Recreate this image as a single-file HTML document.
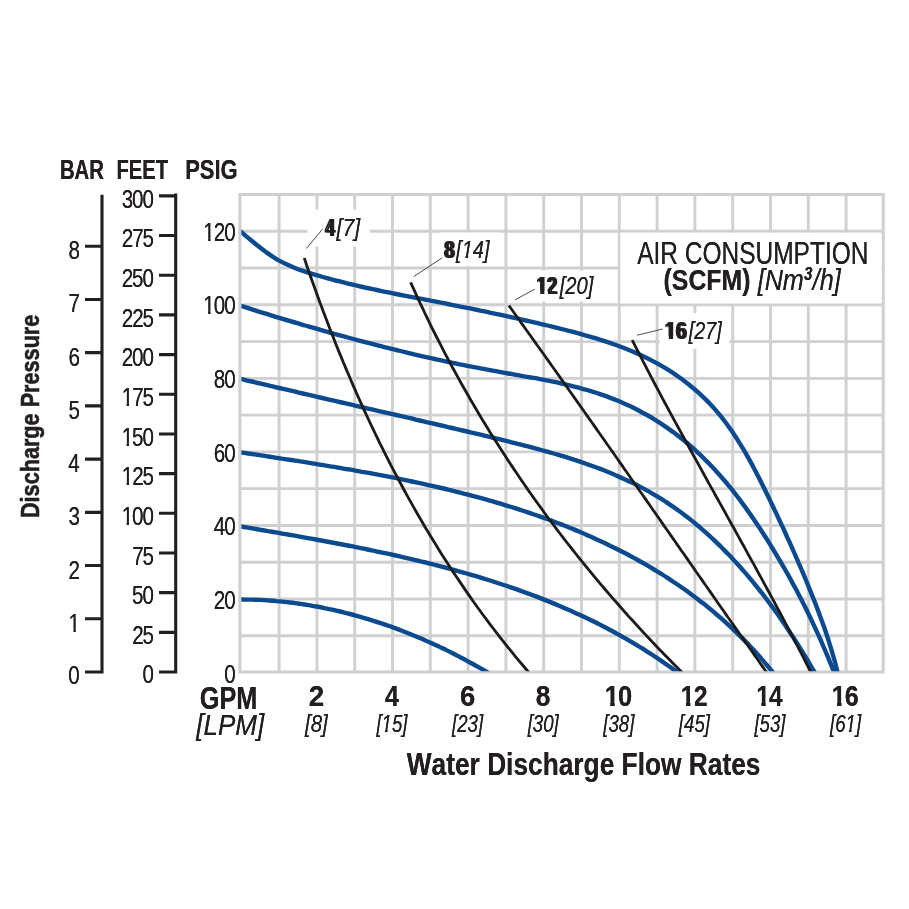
<!DOCTYPE html>
<html lang="en">
<head>
<meta charset="utf-8">
<title>Pump Performance Curve</title>
<style>
html,body{margin:0;padding:0;background:#fff;}
body{width:909px;height:909px;overflow:hidden;}
svg{display:block;}
text{font-family:"Liberation Sans",sans-serif;font-kerning:none;white-space:pre;}
.r{font-weight:400;font-style:normal;}
.b{font-weight:700;font-style:normal;}
.i{font-weight:400;font-style:italic;}
.bi{font-weight:700;font-style:italic;}
.rot{stroke:#231f20;stroke-width:.6px;stroke-linejoin:round;}
</style>
</head>
<body>
<svg width="909" height="909" viewBox="0 0 909 909">
<defs><clipPath id="cp"><rect x="241.4" y="190" width="645" height="481.2"/></clipPath>
<filter id="fat-r" filterUnits="userSpaceOnUse" x="0" y="0" width="909" height="909" color-interpolation-filters="sRGB"><feOffset in="SourceGraphic" dx="0.25" dy="0" result="a"/><feOffset in="SourceGraphic" dx="-0.25" dy="0" result="b"/><feMerge><feMergeNode in="a"/><feMergeNode in="b"/></feMerge></filter>
<filter id="fat-b" filterUnits="userSpaceOnUse" x="0" y="0" width="909" height="909" color-interpolation-filters="sRGB"><feOffset in="SourceGraphic" dx="0.45" dy="0" result="a"/><feOffset in="SourceGraphic" dx="-0.45" dy="0" result="b"/><feMerge><feMergeNode in="a"/><feMergeNode in="b"/></feMerge></filter>
<filter id="fat-i" filterUnits="userSpaceOnUse" x="0" y="0" width="909" height="909" color-interpolation-filters="sRGB"><feOffset in="SourceGraphic" dx="0.42" dy="0" result="a"/><feOffset in="SourceGraphic" dx="-0.42" dy="0" result="b"/><feMerge><feMergeNode in="a"/><feMergeNode in="b"/></feMerge></filter>
<filter id="fat-b2" filterUnits="userSpaceOnUse" x="0" y="0" width="909" height="909" color-interpolation-filters="sRGB"><feOffset in="SourceGraphic" dx="0.70" dy="0" result="a"/><feOffset in="SourceGraphic" dx="-0.70" dy="0" result="b"/><feMerge><feMergeNode in="a"/><feMergeNode in="b"/></feMerge></filter>
</defs>
<rect width="909" height="909" fill="#fff"/>
<g stroke="#cfd0d2" stroke-width="2.9" fill="none">
<rect x="239.90" y="194.50" width="643.30" height="477.50" stroke-width="3.1"/>
<path d="M279.10 194.50V672.00M316.90 194.50V672.00M354.70 194.50V672.00M392.50 194.50V672.00M430.30 194.50V672.00M468.10 194.50V672.00M505.90 194.50V672.00M543.70 194.50V672.00M581.50 194.50V672.00M619.30 194.50V672.00M657.10 194.50V672.00M694.90 194.50V672.00M732.70 194.50V672.00M770.50 194.50V672.00M808.30 194.50V672.00M846.10 194.50V672.00M239.90 635.75H883.20M239.90 598.98H883.20M239.90 562.21H883.20M239.90 525.44H883.20M239.90 488.67H883.20M239.90 451.90H883.20M239.90 415.13H883.20M239.90 378.36H883.20M239.90 341.59H883.20M239.90 304.82H883.20M239.90 268.05H883.20M239.90 231.28H883.20"/>
</g>
<rect x="307.4" y="209.7" width="62.6" height="36.8" fill="#fff"/>
<rect x="440.0" y="232.5" width="60.0" height="33.5" fill="#fff"/>
<rect x="520.0" y="270.5" width="80.0" height="30.9" fill="#fff"/>
<rect x="659.6" y="313.2" width="69.7" height="35.6" fill="#fff"/>
<rect x="620.3" y="232.7" width="261.3" height="70.7" fill="#fff"/>
<g clip-path="url(#cp)" fill="none" stroke-linecap="butt" stroke-linejoin="round">
<g stroke="#0b4a8f" stroke-width="4.4">
<path d="M236.1 227.8C237.2 228.6 240.2 231.2 242.3 232.9C244.3 234.6 246.4 236.4 248.5 238.1C250.5 239.8 252.6 241.6 254.7 243.3C256.8 245.0 258.9 246.7 261.0 248.3C263.2 250.0 265.3 251.6 267.5 253.1C269.7 254.7 271.9 256.2 274.2 257.6C276.5 259.0 278.7 260.4 281.1 261.6C283.4 262.9 285.8 264.0 288.2 265.1C290.6 266.2 293.1 267.3 295.5 268.2C298.0 269.2 300.5 270.1 303.0 270.9C305.5 271.8 308.0 272.6 310.6 273.4C313.1 274.2 315.7 275.0 318.2 275.7C320.8 276.4 323.4 277.2 325.9 277.9C328.5 278.6 331.1 279.3 333.7 280.0C336.3 280.6 338.9 281.3 341.5 281.9C344.0 282.6 346.6 283.2 349.3 283.9C351.9 284.5 354.5 285.1 357.1 285.7C359.7 286.3 362.3 286.9 364.9 287.5C367.5 288.0 370.2 288.6 372.8 289.2C375.4 289.7 378.0 290.3 380.6 290.8C383.3 291.4 385.9 291.9 388.5 292.4C391.2 293.0 393.8 293.5 396.4 294.0C399.1 294.6 401.7 295.1 404.3 295.6C406.9 296.1 409.6 296.6 412.2 297.1C414.8 297.6 417.5 298.1 420.1 298.6C422.7 299.2 425.4 299.7 428.0 300.2C430.6 300.7 433.2 301.2 435.9 301.7C438.5 302.2 441.1 302.7 443.7 303.2C446.3 303.7 449.0 304.3 451.6 304.8C454.2 305.3 456.8 305.8 459.4 306.3C462.0 306.9 464.6 307.4 467.3 307.9C469.9 308.4 472.5 309.0 475.1 309.5C477.7 310.0 480.3 310.6 482.9 311.1C485.5 311.7 488.1 312.2 490.7 312.8C493.3 313.3 495.9 313.9 498.5 314.4C501.2 315.0 503.8 315.5 506.4 316.1C509.0 316.7 511.6 317.3 514.2 317.8C516.8 318.4 519.4 319.0 522.0 319.6C524.6 320.2 527.2 320.8 529.8 321.4C532.4 322.0 535.0 322.6 537.6 323.2C540.2 323.8 542.8 324.4 545.4 325.0C548.0 325.7 550.6 326.3 553.2 326.9C555.8 327.6 558.4 328.2 561.0 328.9C563.6 329.5 566.3 330.2 568.9 330.9C571.5 331.5 574.1 332.2 576.7 332.9C579.3 333.6 581.9 334.3 584.4 335.1C587.0 335.8 589.6 336.5 592.2 337.3C594.8 338.1 597.3 338.8 599.9 339.7C602.5 340.5 605.0 341.3 607.6 342.1C610.1 343.0 612.6 343.9 615.2 344.8C617.7 345.7 620.2 346.6 622.7 347.5C625.2 348.5 627.7 349.5 630.1 350.5C632.6 351.5 635.1 352.6 637.5 353.6C639.9 354.7 642.3 355.8 644.7 357.0C647.1 358.1 649.5 359.3 651.9 360.6C654.3 361.8 656.6 363.1 658.9 364.4C661.2 365.7 663.5 367.0 665.8 368.4C668.1 369.8 670.3 371.2 672.6 372.7C674.8 374.2 677.0 375.7 679.2 377.2C681.3 378.8 683.5 380.4 685.6 382.0C687.7 383.6 689.8 385.3 691.8 387.0C693.9 388.7 695.9 390.4 697.9 392.2C699.9 394.0 701.8 395.8 703.7 397.6C705.7 399.5 707.5 401.4 709.4 403.3C711.2 405.2 713.0 407.1 714.8 409.1C716.5 411.1 718.2 413.2 719.9 415.2C721.6 417.3 723.3 419.4 724.9 421.5C726.5 423.6 728.1 425.7 729.6 427.9C731.1 430.1 732.7 432.3 734.1 434.5C735.6 436.7 737.1 439.0 738.5 441.3C739.9 443.5 741.3 445.8 742.7 448.1C744.1 450.4 745.5 452.7 746.8 455.1C748.1 457.4 749.4 459.8 750.7 462.1C752.0 464.5 753.3 466.9 754.5 469.3C755.8 471.7 757.0 474.1 758.3 476.5C759.5 478.9 760.7 481.3 761.9 483.7C763.1 486.1 764.3 488.5 765.5 491.0C766.6 493.4 767.8 495.8 769.0 498.2C770.1 500.6 771.3 503.1 772.5 505.5C773.6 507.9 774.8 510.3 775.9 512.7C777.0 515.1 778.2 517.6 779.3 520.0C780.4 522.4 781.6 524.8 782.7 527.2C783.8 529.6 784.9 532.0 786.0 534.5C787.1 536.9 788.2 539.3 789.3 541.7C790.4 544.1 791.5 546.6 792.6 549.0C793.6 551.4 794.7 553.9 795.8 556.3C796.8 558.7 797.9 561.2 798.9 563.6C800.0 566.0 801.0 568.5 802.1 570.9C803.1 573.4 804.2 575.8 805.2 578.3C806.2 580.8 807.2 583.2 808.2 585.7C809.2 588.2 810.2 590.6 811.2 593.1C812.2 595.6 813.2 598.1 814.2 600.6C815.2 603.1 816.2 605.6 817.1 608.1C818.1 610.6 819.0 613.1 819.9 615.7C820.9 618.2 821.8 620.7 822.7 623.2C823.6 625.8 824.5 628.3 825.4 630.8C826.2 633.4 827.1 635.9 827.9 638.5C828.7 641.0 829.5 643.6 830.3 646.1C831.1 648.7 831.9 651.3 832.6 653.8C833.4 656.4 834.1 659.0 834.8 661.5C835.5 664.1 836.2 666.7 836.8 669.2C837.4 671.8 838.3 675.7 838.6 677.0"/>
<path d="M235.9 304.3C237.2 304.7 241.0 305.9 243.6 306.7C246.1 307.5 248.7 308.4 251.2 309.2C253.8 310.0 256.3 310.8 258.9 311.6C261.4 312.3 264.0 313.1 266.6 313.9C269.1 314.7 271.7 315.5 274.2 316.3C276.8 317.1 279.4 317.8 281.9 318.6C284.5 319.4 287.1 320.2 289.6 320.9C292.2 321.7 294.8 322.5 297.3 323.2C299.9 324.0 302.5 324.7 305.1 325.5C307.6 326.2 310.2 327.0 312.8 327.7C315.4 328.5 317.9 329.2 320.5 329.9C323.1 330.7 325.7 331.4 328.3 332.1C330.8 332.9 333.4 333.6 336.0 334.3C338.6 335.0 341.2 335.7 343.8 336.4C346.3 337.1 348.9 337.8 351.5 338.5C354.1 339.2 356.7 339.9 359.3 340.6C361.9 341.3 364.5 342.0 367.1 342.7C369.7 343.3 372.3 344.0 374.9 344.7C377.5 345.4 380.1 346.0 382.7 346.7C385.3 347.3 387.9 348.0 390.5 348.6C393.1 349.3 395.7 349.9 398.3 350.5C400.9 351.2 403.5 351.8 406.1 352.4C408.7 353.0 411.3 353.7 413.9 354.3C416.5 354.9 419.1 355.5 421.7 356.1C424.4 356.7 427.0 357.3 429.6 357.9C432.2 358.5 434.8 359.0 437.4 359.6C440.0 360.2 442.7 360.7 445.3 361.3C447.9 361.9 450.5 362.4 453.1 363.0C455.8 363.5 458.4 364.1 461.0 364.6C463.6 365.1 466.3 365.7 468.9 366.2C471.5 366.7 474.1 367.2 476.8 367.7C479.4 368.2 482.0 368.7 484.7 369.2C487.3 369.7 489.9 370.2 492.6 370.7C495.2 371.2 497.8 371.7 500.5 372.1C503.1 372.6 505.8 373.1 508.4 373.5C511.0 374.0 513.7 374.4 516.3 374.9C519.0 375.4 521.6 375.8 524.3 376.3C526.9 376.7 529.5 377.2 532.2 377.7C534.8 378.1 537.5 378.6 540.1 379.1C542.7 379.6 545.4 380.1 548.0 380.6C550.6 381.1 553.2 381.7 555.9 382.2C558.5 382.8 561.1 383.4 563.7 384.0C566.3 384.6 568.9 385.2 571.5 385.8C574.1 386.5 576.7 387.1 579.3 387.8C581.9 388.5 584.4 389.2 587.0 390.0C589.6 390.8 592.1 391.5 594.7 392.3C597.2 393.2 599.8 394.0 602.3 394.9C604.8 395.7 607.3 396.6 609.8 397.6C612.3 398.5 614.8 399.5 617.3 400.5C619.7 401.5 622.2 402.6 624.6 403.7C627.1 404.7 629.5 405.9 631.9 407.0C634.3 408.2 636.7 409.4 639.1 410.7C641.4 411.9 643.8 413.2 646.1 414.5C648.4 415.8 650.8 417.2 653.1 418.6C655.4 420.0 657.6 421.4 659.9 422.9C662.1 424.4 664.4 425.9 666.6 427.4C668.8 428.9 671.0 430.5 673.2 432.1C675.3 433.7 677.5 435.3 679.6 437.0C681.7 438.6 683.8 440.3 685.9 442.0C687.9 443.8 690.0 445.5 692.0 447.3C694.0 449.0 696.0 450.8 697.9 452.7C699.9 454.5 701.8 456.3 703.7 458.2C705.6 460.1 707.5 462.0 709.4 463.9C711.2 465.8 713.1 467.8 714.9 469.7C716.7 471.7 718.5 473.7 720.2 475.7C722.0 477.7 723.7 479.7 725.5 481.8C727.2 483.8 728.9 485.9 730.6 487.9C732.3 490.0 733.9 492.1 735.5 494.2C737.2 496.3 738.8 498.5 740.4 500.6C742.0 502.8 743.6 504.9 745.2 507.1C746.7 509.3 748.3 511.4 749.8 513.6C751.4 515.8 752.9 518.0 754.4 520.2C755.9 522.5 757.4 524.7 758.9 526.9C760.4 529.2 761.8 531.4 763.3 533.7C764.7 535.9 766.2 538.2 767.6 540.4C769.0 542.7 770.5 545.0 771.9 547.3C773.3 549.6 774.7 551.9 776.0 554.2C777.4 556.4 778.8 558.8 780.2 561.1C781.5 563.4 782.9 565.7 784.2 568.0C785.5 570.4 786.8 572.7 788.2 575.0C789.5 577.4 790.8 579.7 792.0 582.1C793.3 584.4 794.6 586.8 795.9 589.1C797.1 591.5 798.4 593.9 799.6 596.3C800.8 598.6 802.1 601.0 803.3 603.4C804.5 605.8 805.7 608.2 806.9 610.6C808.0 613.0 809.2 615.4 810.4 617.8C811.5 620.2 812.7 622.7 813.8 625.1C814.9 627.5 816.1 630.0 817.2 632.4C818.3 634.8 819.4 637.3 820.5 639.7C821.6 642.2 822.6 644.6 823.7 647.1C824.7 649.5 825.8 652.0 826.8 654.4C827.9 656.9 828.9 659.4 829.9 661.9C830.9 664.3 831.9 666.8 832.9 669.3C833.9 671.8 835.3 675.5 835.8 676.8"/>
<path d="M235.8 377.8C237.1 378.1 241.1 379.0 243.7 379.6C246.4 380.3 249.0 380.9 251.7 381.5C254.3 382.1 256.9 382.8 259.6 383.4C262.2 384.0 264.8 384.6 267.5 385.2C270.1 385.8 272.7 386.5 275.3 387.1C277.9 387.7 280.6 388.3 283.2 388.9C285.8 389.5 288.4 390.1 291.0 390.7C293.7 391.3 296.3 391.9 298.9 392.6C301.5 393.2 304.1 393.8 306.7 394.4C309.3 395.0 311.9 395.6 314.5 396.2C317.1 396.8 319.7 397.4 322.3 398.0C324.9 398.6 327.5 399.2 330.1 399.8C332.7 400.4 335.3 401.0 337.9 401.6C340.5 402.2 343.1 402.8 345.7 403.4C348.3 404.0 350.9 404.6 353.5 405.2C356.1 405.8 358.7 406.4 361.3 407.0C363.9 407.6 366.5 408.2 369.1 408.8C371.7 409.4 374.3 410.0 376.9 410.6C379.5 411.1 382.1 411.7 384.7 412.3C387.3 412.9 389.9 413.5 392.5 414.1C395.1 414.7 397.6 415.3 400.2 415.9C402.8 416.5 405.4 417.1 408.0 417.7C410.6 418.3 413.2 418.9 415.8 419.6C418.4 420.2 421.0 420.8 423.6 421.4C426.2 422.0 428.8 422.6 431.4 423.2C434.0 423.8 436.6 424.4 439.2 425.0C441.8 425.6 444.4 426.2 447.0 426.8C449.6 427.4 452.2 428.1 454.8 428.7C457.4 429.3 460.1 429.9 462.7 430.5C465.3 431.1 467.9 431.7 470.5 432.4C473.1 433.0 475.7 433.6 478.3 434.2C481.0 434.9 483.6 435.5 486.2 436.1C488.8 436.7 491.4 437.4 494.1 438.0C496.7 438.6 499.3 439.3 501.9 439.9C504.6 440.5 507.2 441.2 509.8 441.8C512.4 442.5 515.1 443.1 517.7 443.8C520.3 444.4 522.9 445.1 525.5 445.8C528.2 446.5 530.8 447.1 533.4 447.8C536.0 448.5 538.6 449.2 541.2 450.0C543.8 450.7 546.4 451.4 549.0 452.1C551.6 452.9 554.2 453.6 556.8 454.4C559.4 455.1 562.0 455.9 564.6 456.7C567.1 457.5 569.7 458.3 572.3 459.1C574.8 459.9 577.4 460.8 579.9 461.6C582.5 462.5 585.0 463.4 587.5 464.3C590.0 465.1 592.6 466.0 595.1 467.0C597.6 467.9 600.1 468.9 602.6 469.8C605.0 470.8 607.5 471.8 610.0 472.8C612.4 473.8 614.9 474.8 617.3 475.9C619.8 477.0 622.2 478.1 624.6 479.2C627.0 480.3 629.4 481.4 631.8 482.6C634.2 483.7 636.5 484.9 638.9 486.1C641.2 487.3 643.6 488.6 645.9 489.9C648.2 491.1 650.5 492.4 652.8 493.8C655.1 495.1 657.4 496.4 659.6 497.8C661.9 499.2 664.1 500.7 666.3 502.1C668.5 503.6 670.7 505.0 672.9 506.6C675.1 508.1 677.3 509.6 679.4 511.2C681.6 512.7 683.7 514.3 685.8 516.0C687.9 517.6 690.0 519.2 692.1 520.9C694.2 522.6 696.2 524.3 698.3 526.0C700.3 527.7 702.3 529.5 704.3 531.2C706.3 533.0 708.3 534.8 710.3 536.6C712.3 538.4 714.2 540.3 716.2 542.1C718.1 544.0 720.0 545.8 721.9 547.7C723.8 549.6 725.7 551.6 727.6 553.5C729.5 555.4 731.3 557.4 733.2 559.4C735.0 561.3 736.8 563.3 738.6 565.3C740.5 567.3 742.2 569.4 744.0 571.4C745.8 573.4 747.5 575.5 749.3 577.6C751.0 579.6 752.8 581.7 754.5 583.8C756.2 585.9 757.9 588.0 759.5 590.1C761.2 592.3 762.9 594.4 764.5 596.5C766.2 598.7 767.8 600.8 769.4 603.0C771.0 605.2 772.6 607.3 774.2 609.5C775.8 611.7 777.4 613.9 778.9 616.1C780.5 618.3 782.0 620.5 783.5 622.7C785.0 624.9 786.5 627.2 788.0 629.4C789.5 631.6 791.0 633.9 792.4 636.1C793.9 638.3 795.3 640.6 796.8 642.8C798.2 645.1 799.6 647.3 801.0 649.6C802.4 651.8 803.8 654.1 805.2 656.3C806.5 658.6 807.9 660.8 809.2 663.1C810.6 665.3 811.9 667.6 813.2 669.8C814.5 672.1 816.4 675.5 817.1 676.6"/>
<path d="M236.5 451.7C237.8 451.9 241.6 452.5 244.2 452.9C246.8 453.3 249.4 453.6 252.0 454.0C254.5 454.4 257.1 454.8 259.7 455.2C262.3 455.6 264.9 456.0 267.5 456.4C270.1 456.8 272.7 457.2 275.3 457.6C277.9 458.0 280.5 458.4 283.1 458.8C285.8 459.2 288.4 459.6 291.0 460.0C293.6 460.4 296.2 460.8 298.8 461.2C301.5 461.6 304.1 462.0 306.7 462.4C309.3 462.9 312.0 463.3 314.6 463.7C317.2 464.1 319.9 464.5 322.5 465.0C325.1 465.4 327.8 465.8 330.4 466.3C333.0 466.7 335.7 467.2 338.3 467.6C340.9 468.1 343.6 468.5 346.2 469.0C348.9 469.4 351.5 469.9 354.1 470.3C356.8 470.8 359.4 471.3 362.1 471.8C364.7 472.2 367.4 472.7 370.0 473.2C372.6 473.7 375.3 474.2 377.9 474.7C380.6 475.2 383.2 475.7 385.9 476.2C388.5 476.7 391.1 477.2 393.8 477.7C396.4 478.3 399.1 478.8 401.7 479.3C404.3 479.9 407.0 480.4 409.6 481.0C412.2 481.5 414.9 482.1 417.5 482.7C420.1 483.2 422.8 483.8 425.4 484.4C428.0 485.0 430.7 485.6 433.3 486.2C435.9 486.8 438.5 487.4 441.2 488.0C443.8 488.6 446.4 489.2 449.0 489.9C451.6 490.5 454.3 491.1 456.9 491.8C459.5 492.4 462.1 493.1 464.7 493.8C467.3 494.4 469.9 495.1 472.5 495.8C475.1 496.5 477.7 497.2 480.3 497.9C482.9 498.6 485.5 499.4 488.0 500.1C490.6 500.8 493.2 501.6 495.8 502.3C498.4 503.1 500.9 503.8 503.5 504.6C506.1 505.4 508.6 506.2 511.2 507.0C513.8 507.8 516.3 508.6 518.9 509.4C521.4 510.2 523.9 511.1 526.5 511.9C529.0 512.7 531.6 513.6 534.1 514.5C536.6 515.3 539.1 516.2 541.7 517.1C544.2 518.0 546.7 518.9 549.2 519.8C551.7 520.8 554.2 521.7 556.7 522.7C559.2 523.6 561.7 524.6 564.2 525.5C566.6 526.5 569.1 527.5 571.6 528.5C574.0 529.5 576.5 530.5 579.0 531.6C581.4 532.6 583.9 533.6 586.3 534.7C588.7 535.8 591.2 536.8 593.6 537.9C596.0 539.0 598.4 540.1 600.8 541.3C603.3 542.4 605.7 543.5 608.1 544.7C610.4 545.8 612.8 547.0 615.2 548.2C617.6 549.4 620.0 550.6 622.3 551.8C624.7 553.0 627.0 554.2 629.4 555.5C631.7 556.7 634.0 558.0 636.4 559.3C638.7 560.6 641.0 561.9 643.3 563.2C645.6 564.5 647.9 565.8 650.2 567.2C652.5 568.6 654.7 569.9 657.0 571.3C659.3 572.7 661.5 574.1 663.8 575.5C666.0 576.9 668.2 578.4 670.4 579.8C672.7 581.3 674.9 582.8 677.1 584.3C679.3 585.8 681.4 587.3 683.6 588.8C685.8 590.3 687.9 591.9 690.1 593.5C692.2 595.0 694.4 596.6 696.5 598.2C698.6 599.8 700.7 601.5 702.8 603.1C704.9 604.7 707.0 606.4 709.1 608.1C711.1 609.8 713.2 611.5 715.2 613.2C717.3 614.9 719.3 616.7 721.3 618.4C723.3 620.2 725.3 622.0 727.3 623.8C729.3 625.6 731.2 627.4 733.2 629.3C735.1 631.1 737.1 633.0 739.0 634.9C740.9 636.8 742.8 638.7 744.7 640.6C746.6 642.5 748.5 644.5 750.3 646.5C752.2 648.4 754.0 650.4 755.9 652.4C757.7 654.5 759.5 656.5 761.3 658.6C763.1 660.6 764.9 662.7 766.6 664.8C768.4 666.9 770.1 669.0 771.9 671.2C773.6 673.3 776.1 676.6 777.0 677.7"/>
<path d="M236.1 525.6C237.4 525.8 241.4 526.5 244.0 527.0C246.7 527.4 249.3 527.9 252.0 528.3C254.6 528.8 257.3 529.2 259.9 529.7C262.6 530.1 265.2 530.6 267.9 531.1C270.5 531.5 273.2 532.0 275.8 532.4C278.5 532.9 281.1 533.3 283.8 533.8C286.5 534.3 289.1 534.7 291.8 535.2C294.4 535.7 297.1 536.2 299.8 536.6C302.4 537.1 305.1 537.6 307.8 538.1C310.4 538.5 313.1 539.0 315.8 539.5C318.4 540.0 321.1 540.5 323.8 541.0C326.4 541.5 329.1 542.0 331.8 542.5C334.4 543.0 337.1 543.5 339.8 544.0C342.4 544.5 345.1 545.0 347.8 545.5C350.4 546.0 353.1 546.6 355.8 547.1C358.4 547.6 361.1 548.2 363.7 548.7C366.4 549.3 369.1 549.8 371.7 550.4C374.4 550.9 377.1 551.5 379.7 552.0C382.4 552.6 385.0 553.2 387.7 553.7C390.3 554.3 393.0 554.9 395.7 555.5C398.3 556.1 401.0 556.7 403.6 557.3C406.3 557.9 408.9 558.5 411.5 559.1C414.2 559.8 416.8 560.4 419.5 561.0C422.1 561.7 424.8 562.3 427.4 563.0C430.0 563.6 432.7 564.3 435.3 565.0C437.9 565.6 440.5 566.3 443.2 567.0C445.8 567.7 448.4 568.4 451.0 569.1C453.7 569.8 456.3 570.5 458.9 571.3C461.5 572.0 464.1 572.7 466.7 573.5C469.3 574.2 471.9 575.0 474.5 575.7C477.1 576.5 479.7 577.3 482.3 578.1C484.9 578.9 487.5 579.7 490.0 580.5C492.6 581.3 495.2 582.1 497.8 583.0C500.3 583.8 502.9 584.7 505.5 585.5C508.0 586.4 510.6 587.2 513.1 588.1C515.7 589.0 518.2 589.9 520.8 590.8C523.3 591.7 525.9 592.7 528.4 593.6C530.9 594.5 533.5 595.5 536.0 596.4C538.5 597.4 541.0 598.4 543.5 599.4C546.0 600.4 548.5 601.4 551.0 602.4C553.5 603.4 556.0 604.4 558.5 605.5C561.0 606.5 563.5 607.6 565.9 608.7C568.4 609.8 570.9 610.8 573.3 611.9C575.8 613.1 578.2 614.2 580.7 615.3C583.1 616.5 585.6 617.6 588.0 618.8C590.4 619.9 592.9 621.1 595.3 622.3C597.7 623.5 600.1 624.8 602.5 626.0C604.9 627.2 607.3 628.5 609.7 629.8C612.1 631.0 614.5 632.3 616.8 633.6C619.2 634.9 621.6 636.2 623.9 637.6C626.3 638.9 628.6 640.3 631.0 641.6C633.3 643.0 635.6 644.4 638.0 645.8C640.3 647.2 642.6 648.7 644.9 650.1C647.2 651.6 649.5 653.0 651.8 654.5C654.1 656.0 656.3 657.5 658.6 659.0C660.9 660.6 663.1 662.1 665.4 663.7C667.6 665.2 669.9 666.8 672.1 668.4C674.3 670.0 676.6 671.7 678.8 673.3C681.0 675.0 684.3 677.5 685.4 678.3"/>
<path d="M236.0 599.5C237.3 599.5 241.4 599.4 244.1 599.5C246.8 599.5 249.5 599.5 252.2 599.6C254.9 599.7 257.6 599.8 260.3 599.9C263.0 600.1 265.7 600.2 268.4 600.4C271.0 600.6 273.7 600.8 276.4 601.1C279.1 601.3 281.8 601.6 284.5 601.9C287.1 602.2 289.8 602.5 292.5 602.8C295.2 603.1 297.8 603.5 300.5 603.9C303.2 604.3 305.8 604.7 308.5 605.1C311.1 605.6 313.8 606.0 316.4 606.5C319.1 607.0 321.7 607.5 324.4 608.1C327.0 608.6 329.6 609.1 332.3 609.7C334.9 610.3 337.5 610.9 340.1 611.5C342.8 612.2 345.4 612.8 348.0 613.5C350.6 614.1 353.2 614.8 355.8 615.6C358.4 616.3 361.0 617.0 363.6 617.8C366.2 618.5 368.8 619.3 371.3 620.1C373.9 620.9 376.5 621.7 379.0 622.6C381.6 623.4 384.1 624.3 386.7 625.2C389.2 626.0 391.8 626.9 394.3 627.9C396.9 628.8 399.4 629.7 401.9 630.7C404.4 631.7 406.9 632.7 409.4 633.7C411.9 634.7 414.4 635.7 416.9 636.7C419.4 637.8 421.9 638.8 424.4 639.9C426.8 641.0 429.3 642.1 431.8 643.2C434.2 644.3 436.7 645.5 439.1 646.6C441.5 647.8 444.0 648.9 446.4 650.1C448.8 651.3 451.2 652.5 453.6 653.7C456.0 655.0 458.4 656.2 460.8 657.5C463.2 658.7 465.6 660.0 467.9 661.3C470.3 662.6 472.6 663.9 475.0 665.2C477.3 666.5 479.7 667.9 482.0 669.2C484.3 670.6 486.6 671.9 488.9 673.3C491.2 674.7 494.7 676.8 495.8 677.5"/>
</g>
<g stroke="#1c1a1b" stroke-width="2.8">
<path d="M304.2 258.1C304.7 259.4 306.0 263.2 306.8 265.7C307.7 268.2 308.6 270.7 309.4 273.2C310.3 275.8 311.2 278.3 312.1 280.8C313.0 283.3 313.9 285.8 314.8 288.3C315.7 290.8 316.6 293.3 317.5 295.8C318.4 298.3 319.3 300.8 320.2 303.3C321.2 305.8 322.1 308.3 323.0 310.8C324.0 313.3 324.9 315.8 325.9 318.3C326.8 320.8 327.8 323.3 328.7 325.8C329.7 328.3 330.6 330.8 331.6 333.3C332.6 335.7 333.6 338.2 334.6 340.7C335.5 343.2 336.5 345.7 337.5 348.1C338.5 350.6 339.5 353.1 340.6 355.6C341.6 358.0 342.6 360.5 343.6 363.0C344.6 365.4 345.7 367.9 346.7 370.4C347.8 372.8 348.8 375.3 349.9 377.7C350.9 380.2 352.0 382.7 353.0 385.1C354.1 387.6 355.2 390.0 356.2 392.4C357.3 394.9 358.4 397.3 359.5 399.8C360.6 402.2 361.7 404.6 362.8 407.1C363.9 409.5 365.0 411.9 366.1 414.4C367.3 416.8 368.4 419.2 369.5 421.6C370.7 424.0 371.8 426.5 373.0 428.9C374.1 431.3 375.3 433.7 376.4 436.1C377.6 438.5 378.8 440.9 379.9 443.3C381.1 445.7 382.3 448.1 383.5 450.5C384.7 452.9 385.9 455.3 387.1 457.6C388.3 460.0 389.5 462.4 390.7 464.8C392.0 467.2 393.2 469.5 394.4 471.9C395.7 474.3 396.9 476.6 398.2 479.0C399.4 481.3 400.7 483.7 402.0 486.0C403.2 488.4 404.5 490.7 405.8 493.1C407.1 495.4 408.4 497.8 409.7 500.1C411.0 502.4 412.3 504.8 413.6 507.1C414.9 509.4 416.2 511.7 417.5 514.0C418.9 516.3 420.2 518.7 421.6 521.0C422.9 523.3 424.2 525.6 425.6 527.9C427.0 530.2 428.3 532.4 429.7 534.7C431.1 537.0 432.5 539.3 433.9 541.6C435.3 543.8 436.7 546.1 438.1 548.4C439.5 550.6 440.9 552.9 442.3 555.2C443.8 557.4 445.2 559.7 446.6 561.9C448.1 564.1 449.5 566.4 451.0 568.6C452.5 570.9 453.9 573.1 455.4 575.3C456.9 577.5 458.4 579.7 459.9 581.9C461.4 584.2 462.9 586.4 464.4 588.6C465.9 590.8 467.4 593.0 468.9 595.1C470.5 597.3 472.0 599.5 473.5 601.7C475.1 603.9 476.6 606.0 478.2 608.2C479.8 610.4 481.3 612.5 482.9 614.7C484.5 616.8 486.1 619.0 487.7 621.1C489.3 623.2 490.9 625.4 492.5 627.5C494.1 629.6 495.7 631.7 497.4 633.9C499.0 636.0 500.7 638.1 502.3 640.2C504.0 642.3 505.6 644.4 507.3 646.5C509.0 648.5 510.6 650.6 512.3 652.7C514.0 654.8 515.7 656.8 517.4 658.9C519.1 661.0 520.8 663.0 522.6 665.0C524.3 667.1 526.0 669.1 527.8 671.2C529.5 673.2 532.2 676.2 533.0 677.2"/>
<path d="M410.6 282.3C411.2 283.6 412.8 287.3 414.0 289.7C415.1 292.2 416.2 294.6 417.3 297.1C418.4 299.5 419.6 302.0 420.7 304.4C421.9 306.9 423.0 309.3 424.2 311.7C425.3 314.2 426.5 316.6 427.7 319.0C428.8 321.5 430.0 323.9 431.2 326.3C432.4 328.7 433.6 331.1 434.8 333.5C436.0 335.9 437.2 338.3 438.5 340.7C439.7 343.1 440.9 345.5 442.2 347.9C443.4 350.3 444.6 352.7 445.9 355.1C447.1 357.5 448.4 359.9 449.7 362.2C451.0 364.6 452.2 367.0 453.5 369.3C454.8 371.7 456.1 374.1 457.4 376.4C458.7 378.8 460.0 381.1 461.3 383.5C462.6 385.8 464.0 388.2 465.3 390.5C466.6 392.9 468.0 395.2 469.3 397.5C470.6 399.9 472.0 402.2 473.4 404.5C474.7 406.8 476.1 409.2 477.5 411.5C478.8 413.8 480.2 416.1 481.6 418.4C483.0 420.7 484.4 423.0 485.8 425.3C487.2 427.6 488.6 429.9 490.0 432.2C491.5 434.5 492.9 436.7 494.3 439.0C495.8 441.3 497.2 443.6 498.7 445.8C500.1 448.1 501.6 450.4 503.0 452.6C504.5 454.9 506.0 457.1 507.4 459.4C508.9 461.6 510.4 463.9 511.9 466.1C513.4 468.4 514.9 470.6 516.4 472.8C517.9 475.1 519.4 477.3 520.9 479.5C522.4 481.7 524.0 483.9 525.5 486.1C527.0 488.4 528.6 490.6 530.1 492.8C531.7 495.0 533.2 497.2 534.8 499.4C536.4 501.5 537.9 503.7 539.5 505.9C541.1 508.1 542.7 510.3 544.2 512.5C545.8 514.6 547.4 516.8 549.0 519.0C550.6 521.1 552.2 523.3 553.9 525.4C555.5 527.6 557.1 529.7 558.7 531.9C560.4 534.0 562.0 536.2 563.6 538.3C565.3 540.4 566.9 542.5 568.6 544.7C570.2 546.8 571.9 548.9 573.6 551.0C575.2 553.1 576.9 555.2 578.6 557.3C580.3 559.4 582.0 561.5 583.7 563.6C585.4 565.7 587.1 567.8 588.8 569.9C590.5 572.0 592.2 574.1 593.9 576.1C595.6 578.2 597.4 580.3 599.1 582.3C600.8 584.4 602.6 586.4 604.3 588.5C606.0 590.5 607.8 592.6 609.6 594.6C611.3 596.7 613.1 598.7 614.9 600.7C616.6 602.8 618.4 604.8 620.2 606.8C622.0 608.8 623.8 610.8 625.5 612.8C627.3 614.8 629.1 616.9 630.9 618.8C632.8 620.8 634.6 622.8 636.4 624.8C638.2 626.8 640.0 628.8 641.9 630.8C643.7 632.7 645.5 634.7 647.4 636.7C649.2 638.6 651.1 640.6 652.9 642.6C654.8 644.5 656.6 646.5 658.5 648.4C660.4 650.3 662.2 652.3 664.1 654.2C666.0 656.1 667.9 658.1 669.8 660.0C671.7 661.9 673.5 663.8 675.5 665.7C677.4 667.6 679.3 669.5 681.2 671.4C683.1 673.3 686.0 676.2 686.9 677.1"/>
<path d="M508.9 305.6C509.7 306.7 512.1 310.0 513.7 312.2C515.2 314.4 516.8 316.6 518.4 318.8C520.0 321.0 521.5 323.2 523.1 325.4C524.7 327.6 526.2 329.8 527.8 332.0C529.4 334.2 531.0 336.4 532.5 338.6C534.1 340.8 535.7 343.0 537.2 345.2C538.8 347.4 540.4 349.6 541.9 351.8C543.5 354.0 545.1 356.2 546.6 358.4C548.2 360.6 549.8 362.8 551.3 365.0C552.9 367.2 554.4 369.4 556.0 371.6C557.6 373.8 559.1 376.0 560.7 378.2C562.2 380.4 563.8 382.6 565.4 384.8C566.9 387.0 568.5 389.2 570.0 391.5C571.6 393.7 573.2 395.9 574.7 398.1C576.3 400.3 577.8 402.5 579.4 404.7C580.9 406.9 582.5 409.1 584.0 411.3C585.6 413.5 587.1 415.7 588.7 418.0C590.3 420.2 591.8 422.4 593.4 424.6C594.9 426.8 596.5 429.0 598.0 431.2C599.6 433.4 601.1 435.6 602.7 437.8C604.2 440.1 605.8 442.3 607.3 444.5C608.9 446.7 610.4 448.9 612.0 451.1C613.5 453.3 615.1 455.5 616.6 457.8C618.2 460.0 619.7 462.2 621.3 464.4C622.8 466.6 624.4 468.8 625.9 471.0C627.5 473.2 629.0 475.5 630.5 477.7C632.1 479.9 633.6 482.1 635.2 484.3C636.7 486.5 638.3 488.7 639.8 491.0C641.4 493.2 642.9 495.4 644.5 497.6C646.0 499.8 647.6 502.0 649.1 504.2C650.6 506.5 652.2 508.7 653.7 510.9C655.3 513.1 656.8 515.3 658.4 517.5C659.9 519.7 661.5 522.0 663.0 524.2C664.5 526.4 666.1 528.6 667.6 530.8C669.2 533.0 670.7 535.2 672.3 537.5C673.8 539.7 675.4 541.9 676.9 544.1C678.5 546.3 680.0 548.5 681.5 550.7C683.1 553.0 684.6 555.2 686.2 557.4C687.7 559.6 689.3 561.8 690.8 564.0C692.4 566.2 693.9 568.5 695.4 570.7C697.0 572.9 698.5 575.1 700.1 577.3C701.6 579.5 703.2 581.8 704.7 584.0C706.3 586.2 707.8 588.4 709.4 590.6C710.9 592.8 712.4 595.0 714.0 597.2C715.5 599.5 717.1 601.7 718.6 603.9C720.2 606.1 721.7 608.3 723.3 610.5C724.8 612.7 726.4 615.0 727.9 617.2C729.5 619.4 731.0 621.6 732.6 623.8C734.1 626.0 735.7 628.2 737.2 630.4C738.8 632.7 740.3 634.9 741.9 637.1C743.4 639.3 745.0 641.5 746.5 643.7C748.1 645.9 749.6 648.1 751.2 650.3C752.7 652.5 754.3 654.8 755.8 657.0C757.4 659.2 758.9 661.4 760.5 663.6C762.0 665.8 763.6 668.0 765.2 670.2C766.7 672.4 769.0 675.7 769.8 676.8"/>
<path d="M632.2 340.1C632.8 341.3 634.7 344.9 635.9 347.4C637.1 349.8 638.4 352.2 639.6 354.6C640.8 357.0 642.1 359.4 643.3 361.8C644.6 364.3 645.8 366.7 647.1 369.1C648.3 371.5 649.6 373.9 650.8 376.3C652.1 378.7 653.4 381.1 654.6 383.5C655.9 385.9 657.1 388.3 658.4 390.7C659.7 393.1 661.0 395.5 662.2 397.9C663.5 400.3 664.8 402.7 666.1 405.1C667.4 407.4 668.6 409.8 669.9 412.2C671.2 414.6 672.5 417.0 673.8 419.4C675.1 421.8 676.4 424.2 677.7 426.5C679.0 428.9 680.3 431.3 681.6 433.7C682.9 436.1 684.2 438.4 685.5 440.8C686.8 443.2 688.1 445.6 689.4 448.0C690.7 450.3 692.0 452.7 693.3 455.1C694.6 457.5 695.9 459.8 697.2 462.2C698.5 464.6 699.8 467.0 701.2 469.3C702.5 471.7 703.8 474.1 705.1 476.5C706.4 478.8 707.7 481.2 709.0 483.6C710.4 486.0 711.7 488.3 713.0 490.7C714.3 493.1 715.6 495.4 716.9 497.8C718.3 500.2 719.6 502.6 720.9 504.9C722.2 507.3 723.5 509.7 724.9 512.0C726.2 514.4 727.5 516.8 728.8 519.2C730.1 521.5 731.4 523.9 732.8 526.3C734.1 528.6 735.4 531.0 736.7 533.4C738.0 535.8 739.3 538.1 740.6 540.5C741.9 542.9 743.3 545.3 744.6 547.6C745.9 550.0 747.2 552.4 748.5 554.8C749.8 557.1 751.1 559.5 752.4 561.9C753.7 564.3 755.0 566.6 756.3 569.0C757.6 571.4 758.9 573.8 760.2 576.2C761.5 578.5 762.8 580.9 764.1 583.3C765.4 585.7 766.7 588.1 768.0 590.5C769.3 592.8 770.6 595.2 771.9 597.6C773.2 600.0 774.4 602.4 775.7 604.8C777.0 607.2 778.3 609.6 779.6 612.0C780.8 614.4 782.1 616.8 783.4 619.2C784.7 621.6 785.9 624.0 787.2 626.4C788.5 628.8 789.7 631.2 791.0 633.6C792.2 636.0 793.5 638.4 794.7 640.8C796.0 643.2 797.2 645.6 798.5 648.0C799.7 650.4 801.0 652.8 802.2 655.2C803.5 657.7 804.7 660.1 805.9 662.5C807.1 664.9 808.4 667.3 809.6 669.8C810.8 672.2 812.6 675.8 813.2 677.0"/>
</g>
</g>
<g stroke="#3a3738" stroke-width="0.9" fill="none">
<path d="M306.4 248.5L322.5 229.2"/>
<path d="M413.6 276.7L442.2 257.8"/>
<path d="M515.1 299.8L534.8 289.2"/>
<path d="M637.1 335.2L662.6 329.0"/>
</g>
<g stroke="#231f20" stroke-width="3.1" fill="none">
<path d="M102.00 194.80V673.50M85.00 672.00H102.00M85.00 618.77H102.00M85.00 565.55H102.00M85.00 512.33H102.00M85.00 459.10H102.00M85.00 405.88H102.00M85.00 352.65H102.00M85.00 299.43H102.00M85.00 246.20H102.00M175.70 193.50V673.50M159.00 672.00H175.70M159.00 632.33H175.70M159.00 592.65H175.70M159.00 552.98H175.70M159.00 513.30H175.70M159.00 473.62H175.70M159.00 433.95H175.70M159.00 394.27H175.70M159.00 354.60H175.70M159.00 314.92H175.70M159.00 275.25H175.70M159.00 235.57H175.70M159.00 195.90H175.70"/>
</g>
<g class="r" fill="#231f20" filter="url(#fat-r)">
<text font-size="26.40" transform="translate(68.35 684.00) scale(0.7800 1)" letter-spacing="-1.30">0</text>
<text font-size="26.40" transform="translate(68.55 631.77) scale(0.7800 1)" letter-spacing="-1.30">1</text>
<text font-size="26.40" transform="translate(68.58 578.55) scale(0.7800 1)" letter-spacing="-1.30">2</text>
<text font-size="26.40" transform="translate(68.45 525.33) scale(0.7800 1)" letter-spacing="-1.30">3</text>
<text font-size="26.40" transform="translate(68.15 472.10) scale(0.7800 1)" letter-spacing="-1.30">4</text>
<text font-size="26.40" transform="translate(68.41 418.88) scale(0.7800 1)" letter-spacing="-1.30">5</text>
<text font-size="26.40" transform="translate(68.45 365.65) scale(0.7800 1)" letter-spacing="-1.30">6</text>
<text font-size="26.40" transform="translate(68.58 312.43) scale(0.7800 1)" letter-spacing="-1.30">7</text>
<text font-size="26.40" transform="translate(68.44 259.20) scale(0.7800 1)" letter-spacing="-1.30">8</text>
<text font-size="26.40" transform="translate(142.55 683.40) scale(0.7800 1)" letter-spacing="-1.30">0</text>
<text font-size="26.40" transform="translate(132.17 644.12) scale(0.7800 1)" letter-spacing="-1.30">25</text>
<text font-size="26.40" transform="translate(132.11 604.45) scale(0.7800 1)" letter-spacing="-1.30">50</text>
<text font-size="26.40" transform="translate(132.17 564.77) scale(0.7800 1)" letter-spacing="-1.30">75</text>
<text font-size="26.40" transform="translate(121.68 525.10) scale(0.7800 1)" letter-spacing="-1.30">100</text>
<text font-size="26.40" transform="translate(121.74 485.43) scale(0.7800 1)" letter-spacing="-1.30">125</text>
<text font-size="26.40" transform="translate(121.68 445.75) scale(0.7800 1)" letter-spacing="-1.30">150</text>
<text font-size="26.40" transform="translate(121.74 406.07) scale(0.7800 1)" letter-spacing="-1.30">175</text>
<text font-size="26.40" transform="translate(121.68 366.40) scale(0.7800 1)" letter-spacing="-1.30">200</text>
<text font-size="26.40" transform="translate(121.74 326.72) scale(0.7800 1)" letter-spacing="-1.30">225</text>
<text font-size="26.40" transform="translate(121.68 287.05) scale(0.7800 1)" letter-spacing="-1.30">250</text>
<text font-size="26.40" transform="translate(121.74 247.38) scale(0.7800 1)" letter-spacing="-1.30">275</text>
<text font-size="26.40" transform="translate(121.68 207.70) scale(0.7800 1)" letter-spacing="-1.30">300</text>
<text font-size="26.40" transform="translate(224.15 683.30) scale(0.7800 1)" letter-spacing="-1.30">0</text>
<text font-size="26.40" transform="translate(213.71 608.58) scale(0.7800 1)" letter-spacing="-1.30">20</text>
<text font-size="26.40" transform="translate(213.71 535.04) scale(0.7800 1)" letter-spacing="-1.30">40</text>
<text font-size="26.40" transform="translate(213.71 461.50) scale(0.7800 1)" letter-spacing="-1.30">60</text>
<text font-size="26.40" transform="translate(213.71 387.96) scale(0.7800 1)" letter-spacing="-1.30">80</text>
<text font-size="26.40" transform="translate(203.28 314.42) scale(0.7800 1)" letter-spacing="-1.30">100</text>
<text font-size="26.40" transform="translate(203.28 240.88) scale(0.7800 1)" letter-spacing="-1.30">120</text>
<text font-size="31.00" transform="translate(637.25 264.00) scale(0.7898 1)">AIR CONSUMPTION</text>
</g>
<g class="b" fill="#231f20" filter="url(#fat-b)">
<text font-size="27.40" transform="translate(59.94 179.00) scale(0.7408 1)">BAR</text>
<text font-size="27.40" transform="translate(116.45 179.00) scale(0.7379 1)">FEET</text>
<text font-size="27.40" transform="translate(185.13 179.00) scale(0.8039 1)">PSIG</text>
<text font-size="30.80" transform="translate(199.76 709.00) scale(0.8199 1)">GPM</text>
<text font-size="29.80" transform="translate(308.74 705.80) scale(0.9340 1)" letter-spacing="-1.00">2</text>
<text font-size="29.80" transform="translate(384.92 705.80) scale(0.8395 1)" letter-spacing="-1.00">4</text>
<text font-size="29.80" transform="translate(459.94 705.80) scale(0.9233 1)" letter-spacing="-1.00">6</text>
<text font-size="29.80" transform="translate(535.86 705.80) scale(0.8837 1)" letter-spacing="-1.00">8</text>
<text font-size="29.80" transform="translate(604.74 705.80) scale(0.8572 1)" letter-spacing="-1.00">10</text>
<text font-size="29.80" transform="translate(680.68 705.80) scale(0.8357 1)" letter-spacing="-1.00">12</text>
<text font-size="29.80" transform="translate(756.17 705.80) scale(0.8170 1)" letter-spacing="-1.00">14</text>
<text font-size="29.80" transform="translate(831.72 705.80) scale(0.8427 1)" letter-spacing="-1.00">16</text>
<text font-size="31.20" transform="translate(406.77 774.80) scale(0.8432 1)">Water Discharge Flow Rates</text>
<text font-size="29.20" transform="translate(663.56 290.00) scale(0.8503 1)">(SCFM)</text>
</g>
<g class="i" fill="#231f20" filter="url(#fat-i)">
<text font-size="28.60" transform="translate(196.30 735.40) scale(0.9104 1)">[LPM]</text>
<text font-size="24.20" transform="translate(304.99 731.70) scale(0.8481 1)">[8]</text>
<text font-size="24.20" transform="translate(376.45 731.70) scale(0.7702 1)">[15]</text>
<text font-size="24.20" transform="translate(452.05 731.70) scale(0.7702 1)">[23]</text>
<text font-size="24.20" transform="translate(527.65 731.70) scale(0.7702 1)">[30]</text>
<text font-size="24.20" transform="translate(603.25 731.70) scale(0.7702 1)">[38]</text>
<text font-size="24.20" transform="translate(678.85 731.70) scale(0.7702 1)">[45]</text>
<text font-size="24.20" transform="translate(754.45 731.70) scale(0.7702 1)">[53]</text>
<text font-size="24.20" transform="translate(830.05 731.70) scale(0.7702 1)">[61]</text>
<text font-size="23.60" transform="translate(336.50 236.00) scale(0.8991 1)">[7]</text>
<text font-size="23.60" transform="translate(456.08 258.00) scale(0.8519 1)">[14]</text>
<text font-size="23.60" transform="translate(559.69 294.00) scale(0.8569 1)">[20]</text>
<text font-size="23.60" transform="translate(688.78 338.80) scale(0.8370 1)">[27]</text>
<text font-size="29.00" transform="translate(757.68 290.0) scale(0.8685 1)">[Nm<tspan class="bi" font-size="17.5" dx="0.3" dy="-10.3">3</tspan><tspan dx="0.3" dy="10.3">/h]</tspan></text>
</g>
<g class="b" fill="#231f20" filter="url(#fat-b2)">
<text font-size="23.60" transform="translate(325.14 236.00) scale(0.7357 1)">4</text>
<text font-size="23.60" transform="translate(444.20 258.00) scale(0.7983 1)">8</text>
<text font-size="23.60" transform="translate(536.74 294.00) scale(0.7809 1)">12</text>
<text font-size="23.60" transform="translate(665.08 338.80) scale(0.8239 1)">16</text>
</g>
<path fill="#fff" d="M69.17 632.57L69.17 629.10L73.38 629.10L73.38 632.57ZM75.90 632.57L75.90 629.10L79.95 629.10L79.95 632.57ZM122.29 525.90L122.29 522.43L126.50 522.43L126.50 525.90ZM129.02 525.90L129.02 522.43L133.07 522.43L133.07 525.90ZM122.35 486.23L122.35 482.75L126.56 482.75L126.56 486.23ZM129.08 486.23L129.08 482.75L133.13 482.75L133.13 486.23ZM122.29 446.55L122.29 443.08L126.50 443.08L126.50 446.55ZM129.02 446.55L129.02 443.08L133.07 443.08L133.07 446.55ZM122.35 406.88L122.35 403.40L126.56 403.40L126.56 406.88ZM129.08 406.88L129.08 403.40L133.13 403.40L133.13 406.88ZM203.89 315.22L203.89 311.75L208.10 311.75L208.10 315.22ZM210.62 315.22L210.62 311.75L214.67 311.75L214.67 315.22ZM203.89 241.68L203.89 238.21L208.10 238.21L208.10 241.68ZM210.62 241.68L210.62 238.21L214.67 238.21L214.67 241.68ZM380.88 732.50L381.37 729.19L385.24 729.19L384.75 732.50ZM387.43 732.50L387.93 729.19L391.65 729.19L391.15 732.50ZM605.20 706.60L605.20 702.06L610.15 702.06L610.15 706.60ZM614.76 706.60L614.76 702.06L619.39 702.06L619.39 706.60ZM681.10 706.60L681.10 702.06L685.94 702.06L685.94 706.60ZM690.46 706.60L690.46 702.06L694.99 702.06L694.99 706.60ZM756.55 706.60L756.55 702.06L761.30 702.06L761.30 706.60ZM765.74 706.60L765.74 702.06L770.18 702.06L770.18 706.60ZM832.15 706.60L832.15 702.06L837.03 702.06L837.03 706.60ZM841.57 706.60L841.57 702.06L846.14 702.06L846.14 706.60ZM844.84 732.50L845.34 729.19L849.21 729.19L848.71 732.50ZM851.40 732.50L851.89 729.19L855.62 729.19L855.12 732.50ZM460.94 258.80L461.48 255.54L465.60 255.54L465.06 258.80ZM467.88 258.80L468.42 255.54L472.39 255.54L471.84 258.80ZM536.50 294.80L536.50 290.89L540.24 290.89L540.24 294.80ZM544.37 294.80L544.37 290.89L547.88 290.89L547.88 294.80ZM664.90 339.60L664.90 335.69L668.81 335.69L668.81 339.60ZM673.08 339.60L673.08 335.69L676.75 335.69L676.75 339.60Z"/>
<text class="b rot" font-size="26.60" transform="translate(38.60 518.05) rotate(-90) scale(0.8139 1)" fill="#231f20">Discharge Pressure</text>
</svg>
</body>
</html>
